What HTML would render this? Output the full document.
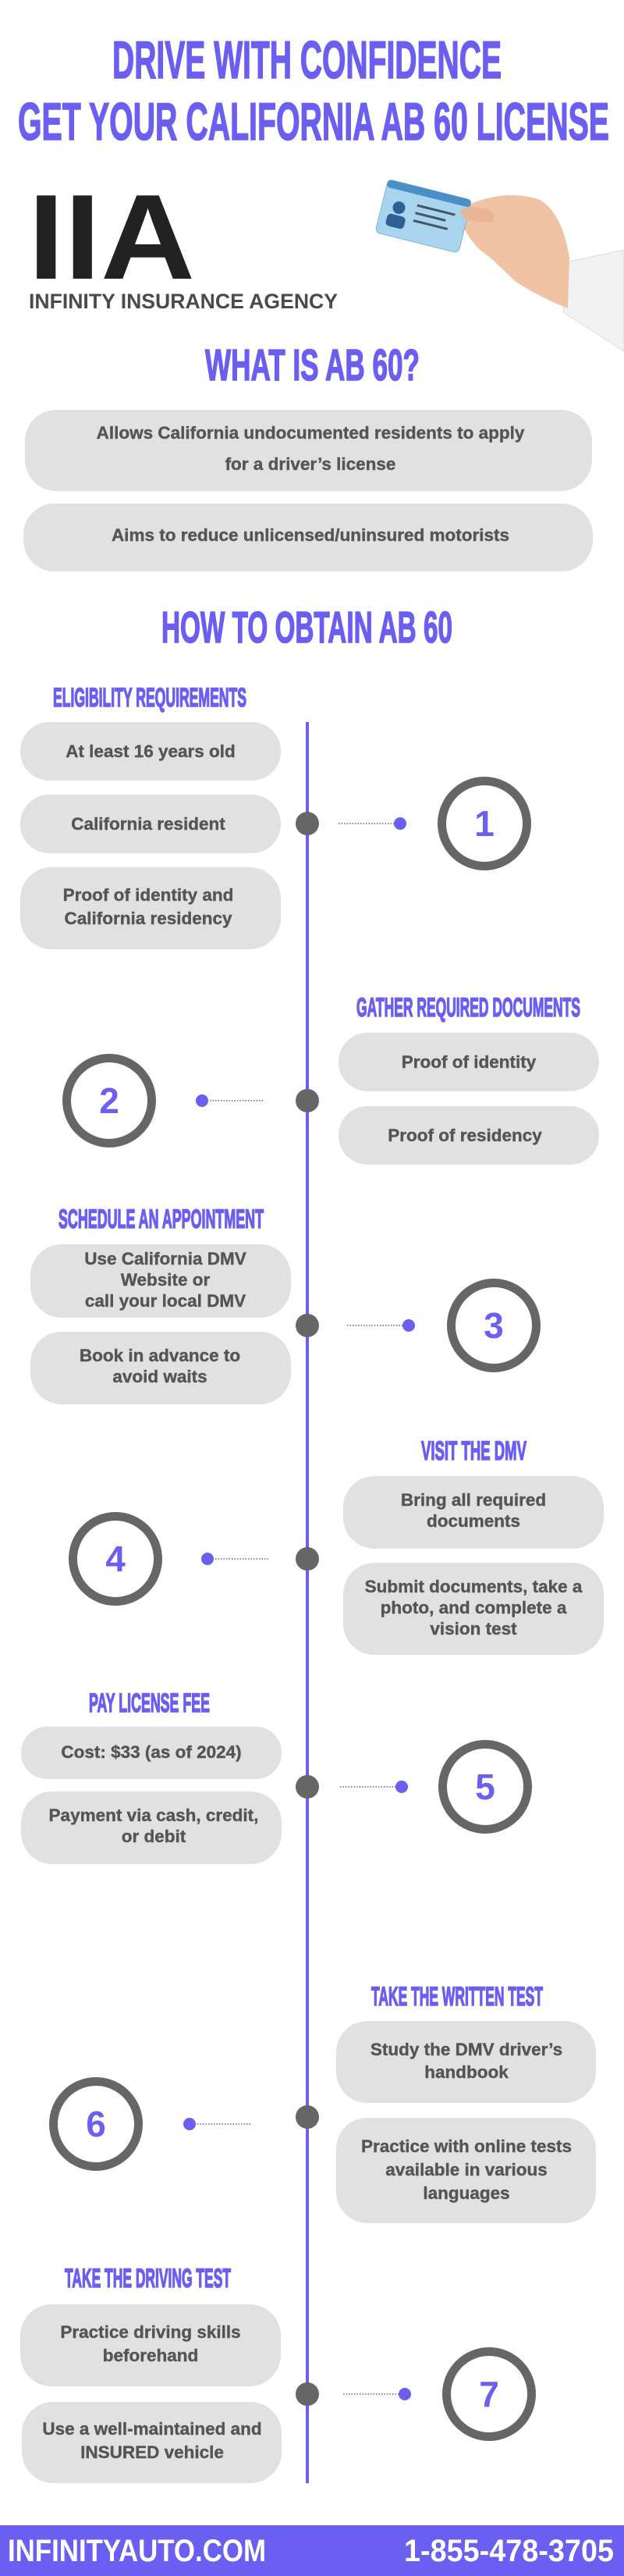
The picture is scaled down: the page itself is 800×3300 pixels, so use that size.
<!DOCTYPE html>
<html><head><meta charset="utf-8"><style>html,body{margin:0;padding:0;background:#fff}svg{display:block}</style></head>
<body>
<svg width="800" height="3300" viewBox="0 0 800 3300" xmlns="http://www.w3.org/2000/svg">
<defs>
<style>
.h{font-family:"Liberation Sans Narrow","Liberation Sans",sans-serif;font-weight:bold;fill:#6a5ff0;stroke:#6a5ff0;stroke-width:1.6}
.b{font-family:"Liberation Sans",sans-serif;font-weight:bold;fill:#555;font-size:22.5px;text-anchor:middle;stroke:#555;stroke-width:0.4}
.box{fill:#e1e1e1}
.n{font-family:"Liberation Sans",sans-serif;font-weight:bold;fill:#6a5ff0;font-size:46px;text-anchor:middle}
</style>
</defs>
<rect width="800" height="3300" fill="#fff"/>
<!-- Title -->
<text class="h" x="144" y="100" font-size="68" textLength="499" lengthAdjust="spacingAndGlyphs">DRIVE WITH CONFIDENCE</text>
<text class="h" x="23" y="179" font-size="68" textLength="758" lengthAdjust="spacingAndGlyphs">GET YOUR CALIFORNIA AB 60 LICENSE</text>
<!-- Logo -->
<text x="36" y="357" font-family="Liberation Sans,sans-serif" font-weight="bold" font-size="155" fill="#222" textLength="214" lengthAdjust="spacingAndGlyphs">IIA</text>
<text x="37" y="395" font-family="Liberation Sans,sans-serif" font-weight="bold" font-size="27" fill="#4a4a4a" textLength="396" lengthAdjust="spacingAndGlyphs">INFINITY INSURANCE AGENCY</text>
<!-- Hand + card -->
<g>
<path d="M730 335 L800 320 L800 450 L722 400 Z" fill="#f2f2f2" stroke="#ddd"/>
<path d="M585 270 Q640 240 690 255 Q720 270 730 330 L728 395 Q690 380 660 360 Q630 330 615 320 Q595 300 585 270 Z" fill="#efc3a4"/>
<g transform="rotate(14 535 275)">
<rect x="488" y="240" width="110" height="70" rx="6" fill="#a9d4ee" stroke="#7fb6d9"/>
<rect x="488" y="240" width="110" height="10" rx="4" fill="#4a8fc8"/>
<circle cx="510" cy="272" r="8" fill="#2f5f93"/>
<rect x="498" y="282" width="24" height="16" rx="5" fill="#2f5f93"/>
<rect x="532" y="262" width="50" height="3" fill="#456"/>
<rect x="532" y="272" width="40" height="3" fill="#456"/>
<rect x="532" y="282" width="45" height="3" fill="#456"/>
</g>
<path d="M590 270 Q600 262 625 268 Q640 275 630 285 Q610 285 595 280 Z" fill="#e8b595"/>
</g>
<!-- What is AB 60 -->
<text class="h" x="263" y="487" font-size="57" textLength="275" lengthAdjust="spacingAndGlyphs">WHAT IS AB 60?</text>
<rect class="box" x="32" y="525" width="727" height="104" rx="40"/>
<text class="b" x="398" y="562">Allows California undocumented residents to apply</text>
<text class="b" x="398" y="602">for a driver’s license</text>
<rect class="box" x="30" y="645" width="730" height="87" rx="40"/>
<text class="b" x="398" y="693">Aims to reduce unlicensed/uninsured motorists</text>
<text class="h" x="207" y="823" font-size="57" textLength="373" lengthAdjust="spacingAndGlyphs">HOW TO OBTAIN AB 60</text>
<!-- timeline -->
<rect x="392" y="925" width="4" height="2256" fill="#6a5ff0"/>
<g fill="#666">
<circle cx="394" cy="1055" r="15"/><circle cx="394" cy="1410" r="15"/><circle cx="394" cy="1698" r="15"/>
<circle cx="394" cy="1997" r="15"/><circle cx="394" cy="2289" r="15"/><circle cx="394" cy="2712" r="15"/><circle cx="394" cy="3067" r="15"/>
</g>
<g stroke="#666" stroke-width="1.5" stroke-dasharray="1.5 2" fill="none">
<line x1="434" y1="1055" x2="510" y2="1055"/>
<line x1="262" y1="1410" x2="337" y2="1410"/>
<line x1="445" y1="1698" x2="521" y2="1698"/>
<line x1="269" y1="1997" x2="346" y2="1997"/>
<line x1="436" y1="2289" x2="513" y2="2289"/>
<line x1="246" y1="2721" x2="321" y2="2721"/>
<line x1="440" y1="3067" x2="516" y2="3067"/>
</g>
<g fill="#6a5ff0">
<circle cx="513" cy="1055" r="8"/><circle cx="259" cy="1410" r="8"/><circle cx="524" cy="1698" r="8"/>
<circle cx="266" cy="1997" r="8"/><circle cx="515" cy="2289" r="8"/><circle cx="243" cy="2721" r="8"/><circle cx="519" cy="3067" r="8"/>
</g>
<g fill="none" stroke="#666" stroke-width="11">
<circle cx="621" cy="1055" r="54.5"/><circle cx="140" cy="1410" r="54.5"/><circle cx="633" cy="1698" r="54.5"/>
<circle cx="148" cy="1997" r="54.5"/><circle cx="622" cy="2289" r="54.5"/><circle cx="123" cy="2721" r="54.5"/><circle cx="627" cy="3067" r="54.5"/>
</g>
<text class="n" x="621" y="1071">1</text><text class="n" x="140" y="1426">2</text><text class="n" x="633" y="1714">3</text>
<text class="n" x="148" y="2013">4</text><text class="n" x="622" y="2305">5</text><text class="n" x="123" y="2737">6</text><text class="n" x="627" y="3083">7</text>
<!-- Step 1 -->
<text class="h" x="68" y="905" font-size="34" textLength="248" lengthAdjust="spacingAndGlyphs">ELIGIBILITY REQUIREMENTS</text>
<rect class="box" x="26" y="925" width="334" height="75" rx="37"/>
<text class="b" x="193" y="970">At least 16 years old</text>
<rect class="box" x="26" y="1018" width="334" height="75" rx="37"/>
<text class="b" x="190" y="1063">California resident</text>
<rect class="box" x="26" y="1111" width="334" height="105" rx="40"/>
<text class="b" x="190" y="1154">Proof of identity and</text>
<text class="b" x="190" y="1184">California residency</text>
<!-- Step 2 -->
<text class="h" x="457" y="1302" font-size="34" textLength="287" lengthAdjust="spacingAndGlyphs">GATHER REQUIRED DOCUMENTS</text>
<rect class="box" x="434" y="1323" width="334" height="75" rx="37"/>
<text class="b" x="601" y="1368">Proof of identity</text>
<rect class="box" x="434" y="1417" width="334" height="75" rx="37"/>
<text class="b" x="596" y="1462">Proof of residency</text>
<!-- Step 3 -->
<text class="h" x="75" y="1573" font-size="34" textLength="263" lengthAdjust="spacingAndGlyphs">SCHEDULE AN APPOINTMENT</text>
<rect class="box" x="39" y="1594" width="334" height="94" rx="40"/>
<text class="b" x="212" y="1620">Use California DMV</text>
<text class="b" x="212" y="1647">Website or</text>
<text class="b" x="212" y="1674">call your local DMV</text>
<rect class="box" x="39" y="1706" width="334" height="93" rx="40"/>
<text class="b" x="205" y="1744">Book in advance to</text>
<text class="b" x="205" y="1771">avoid waits</text>
<!-- Step 4 -->
<text class="h" x="540" y="1870" font-size="34" textLength="135" lengthAdjust="spacingAndGlyphs">VISIT THE DMV</text>
<rect class="box" x="440" y="1891" width="334" height="93" rx="40"/>
<text class="b" x="607" y="1929">Bring all required</text>
<text class="b" x="607" y="1956">documents</text>
<rect class="box" x="440" y="2002" width="334" height="118" rx="40"/>
<text class="b" x="607" y="2040">Submit documents, take a</text>
<text class="b" x="607" y="2067">photo, and complete a</text>
<text class="b" x="607" y="2094">vision test</text>
<!-- Step 5 -->
<text class="h" x="114" y="2193" font-size="34" textLength="155" lengthAdjust="spacingAndGlyphs">PAY LICENSE FEE</text>
<rect class="box" x="27" y="2212" width="334" height="67" rx="33"/>
<text class="b" x="194" y="2252">Cost: $33 (as of 2024)</text>
<rect class="box" x="27" y="2295" width="334" height="93" rx="40"/>
<text class="b" x="197" y="2333">Payment via cash, credit,</text>
<text class="b" x="197" y="2360">or debit</text>
<!-- Step 6 -->
<text class="h" x="476" y="2569" font-size="34" textLength="220" lengthAdjust="spacingAndGlyphs">TAKE THE WRITTEN TEST</text>
<rect class="box" x="431" y="2589" width="333" height="105" rx="40"/>
<text class="b" x="598" y="2633">Study the DMV driver’s</text>
<text class="b" x="598" y="2662">handbook</text>
<rect class="box" x="431" y="2713" width="333" height="135" rx="40"/>
<text class="b" x="598" y="2757">Practice with online tests</text>
<text class="b" x="598" y="2787">available in various</text>
<text class="b" x="598" y="2817">languages</text>
<!-- Step 7 -->
<text class="h" x="83" y="2930" font-size="34" textLength="213" lengthAdjust="spacingAndGlyphs">TAKE THE DRIVING TEST</text>
<rect class="box" x="26" y="2952" width="334" height="105" rx="40"/>
<text class="b" x="193" y="2995">Practice driving skills</text>
<text class="b" x="193" y="3025">beforehand</text>
<rect class="box" x="28" y="3077" width="333" height="104" rx="40"/>
<text class="b" x="195" y="3119">Use a well-maintained and</text>
<text class="b" x="195" y="3149">INSURED vehicle</text>
<!-- Footer -->
<rect x="0" y="3235" width="800" height="65" fill="#6a5ff0"/>
<text x="10" y="3281" font-family="Liberation Sans,sans-serif" font-weight="bold" font-size="40" fill="#fff" textLength="331" lengthAdjust="spacingAndGlyphs">INFINITYAUTO.COM</text>
<text x="518" y="3281" font-family="Liberation Sans,sans-serif" font-weight="bold" font-size="40" fill="#fff" textLength="269" lengthAdjust="spacingAndGlyphs">1-855-478-3705</text>
</svg>
</body></html>
